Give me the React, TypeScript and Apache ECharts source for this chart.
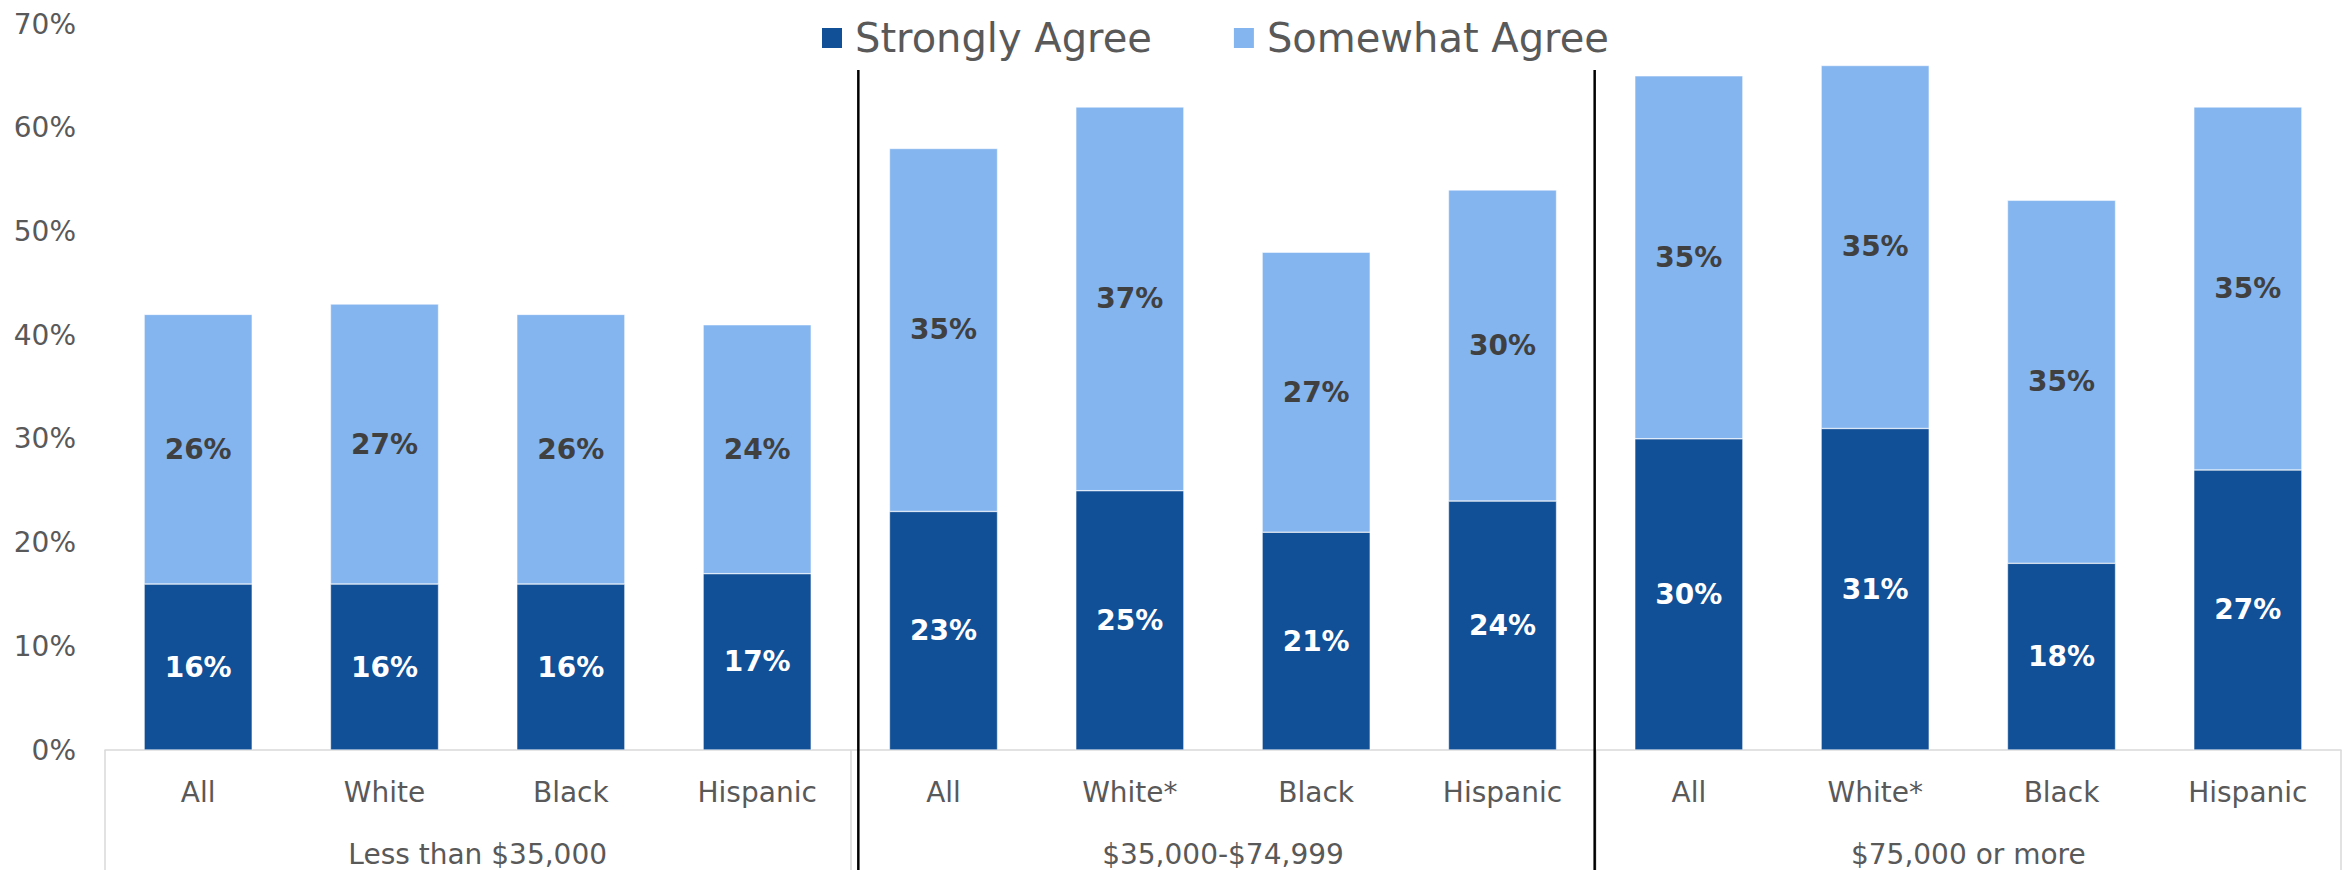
import React, { useEffect, useRef } from "react";
import * as echarts from "echarts";

const categories = ["All", "White", "Black", "Hispanic", "All", "White*", "Black", "Hispanic", "All", "White*", "Black", "Hispanic"];
const groups = ["Less than $35,000", "$35,000-$74,999", "$75,000 or more"];
const seriesNames = ["Strongly Agree", "Somewhat Agree"];
const strongly = [16, 16, 16, 17, 23, 25, 21, 24, 30, 31, 18, 27];
const somewhat = [26, 27, 26, 24, 35, 37, 27, 30, 35, 35, 35, 35];
const yMin = 0;
const yMax = 70;
const yInterval = 10;

const FONT = "DejaVu Sans";
const GRAY = "#595959";
const DARK = "#114F96";
const LIGHT = "#84B5EF";
const AXIS_GRAY = "#D9D9D9";

export default function App() {
  const ref = useRef<HTMLDivElement>(null);
  useEffect(() => {
    document.body.style.margin = "0";
    const chart = echarts.init(ref.current!, null, { renderer: "svg" });
    chart.setOption({
      animation: false,
      textStyle: { fontFamily: FONT },
      legend: {
        left: 815,
        top: 13,
        itemWidth: 22,
        itemHeight: 22,
        itemGap: 80,
        icon: "rect",
        textStyle: { fontSize: 40, color: GRAY, fontFamily: FONT, padding: [0, 0, 0, 7] },
        data: seriesNames,
      },
      grid: { left: 105, right: 10, top: 24, bottom: 120, containLabel: false },
      xAxis: [
        {
          type: "category",
          data: categories,
          position: "bottom",
          axisLine: { show: true, lineStyle: { color: AXIS_GRAY, width: 1.5 } },
          axisTick: { show: false },
          axisLabel: { interval: 0, margin: 28, fontSize: 28, color: GRAY, fontFamily: FONT },
        },
        {
          type: "category",
          data: groups,
          position: "bottom",
          axisLine: { show: false },
          axisTick: { show: true, interval: 0, length: 120, lineStyle: { color: AXIS_GRAY, width: 1.5 } },
          axisLabel: { interval: 0, margin: 90, fontSize: 28, color: GRAY, fontFamily: FONT },
        },
      ],
      yAxis: {
        type: "value",
        min: yMin,
        max: yMax,
        interval: yInterval,
        axisLine: { show: false },
        axisTick: { show: false },
        splitLine: { show: false },
        axisLabel: { formatter: "{value}%", fontSize: 28, color: GRAY, margin: 29, fontFamily: FONT },
      },
      series: [
        {
          name: seriesNames[0],
          type: "bar",
          stack: "total",
          barWidth: "58%",
          xAxisIndex: 0,
          data: strongly,
          itemStyle: { color: DARK, borderColor: "#ffffff", borderWidth: 0.5 },
          label: { show: true, position: "inside", formatter: "{c}%", color: "#ffffff", fontWeight: "bold", fontSize: 28, fontFamily: FONT },
        },
        {
          name: seriesNames[1],
          type: "bar",
          stack: "total",
          barWidth: "58%",
          xAxisIndex: 0,
          data: somewhat,
          itemStyle: { color: LIGHT, borderColor: "#ffffff", borderWidth: 0.5 },
          label: { show: true, position: "inside", formatter: "{c}%", color: "#404040", fontWeight: "bold", fontSize: 28, fontFamily: FONT },
        },
      ],
    });
    const px = (i: number) => chart.convertToPixel({ xAxisIndex: 0 }, i) as number;
    const b1 = (px(3) + px(4)) / 2 + 8;
    const b2 = (px(7) + px(8)) / 2 - 1;
    chart.setOption({
      graphic: [b1, b2].map((x) => ({
        type: "line",
        shape: { x1: x, y1: 70, x2: x, y2: 870 },
        style: { stroke: "#000000", lineWidth: 2.5 },
        z: 100,
      })),
    });
    return () => chart.dispose();
  }, []);
  return <div ref={ref} style={{ width: 2351, height: 870 }} />;
}
